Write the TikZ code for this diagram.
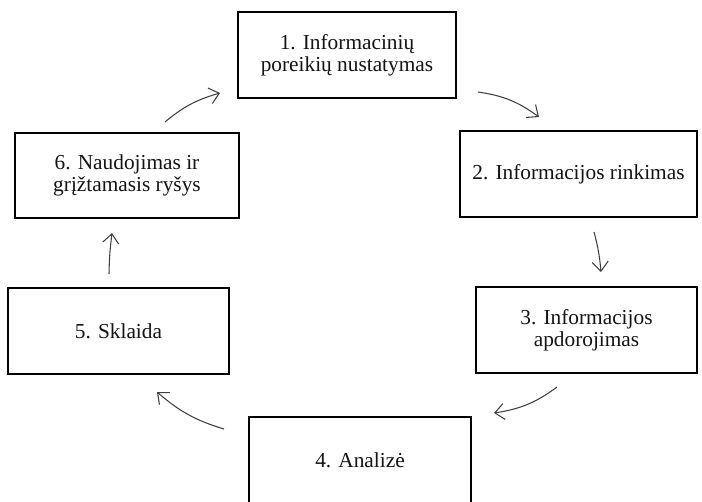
\documentclass[tikz,border=0pt]{standalone}
\usepackage{fontspec}
\setmainfont{Liberation Serif}
\usetikzlibrary{arrows.meta,bending}

\begin{document}
\begin{tikzpicture}[x=0.75pt,y=-0.75pt,
  stagebox/.style={draw=black, line width=1.5pt, fill=white, align=center,
    inner sep=0pt, minimum height=64.5pt,
    font=\fontsize{16}{16.5}\selectfont, text=black!92},
  flow/.style={draw=black!75, line width=0.8pt,
    -{Straight Barb[length=7pt,width=12pt,line width=0.8pt]}}]

  \clip (0,0) rectangle (702,501);
  \useasboundingbox (0,0) rectangle (702,501);

  % the six stages of the cycle
  \node[stagebox, minimum width=163.5pt] (s1) at (347,55)
    {1. Informacinių\\poreikių nustatymas};
  \node[stagebox, minimum width=177.75pt] (s2) at (578.5,174)
    {2. Informacijos rinkimas};
  \node[stagebox, minimum width=165.75pt] (s3) at (586.5,330)
    {3. Informacijos\\apdorojimas};
  \node[stagebox, minimum width=166.5pt] (s4) at (360,460)
    {4. Analizė};
  \node[stagebox, minimum width=165.75pt] (s5) at (118.5,331)
    {5. Sklaida};
  \node[stagebox, minimum width=168pt, minimum height=63.75pt] (s6) at (127,175.5)
    {6. Naudojimas ir\\grįžtamasis ryšys};

  % free-standing ends of the arrows between stages
  \coordinate (a1) at (478,92);  \coordinate (b1) at (539,117);
  \coordinate (a2) at (594,232); \coordinate (b2) at (601,272);
  \coordinate (a3) at (557,387); \coordinate (b3) at (494,413);
  \coordinate (a4) at (224,429); \coordinate (b4) at (157,392);
  \coordinate (a5) at (109,274); \coordinate (b5) at (112,233);
  \coordinate (a6) at (165,122); \coordinate (b6) at (220,93);

  \draw[flow] (a1) to[bend left=14] (b1);
  \draw[flow] (a2) to[bend left=5] (b2);
  \draw[flow] (a3) to[bend left=14] (b3);
  \draw[flow] (a4) to[bend left=12] (b4);
  \draw[flow] (a5) to[bend left=3] (b5);
  \draw[flow] (a6) to[bend left=12] (b6);
\end{tikzpicture}
\end{document}
